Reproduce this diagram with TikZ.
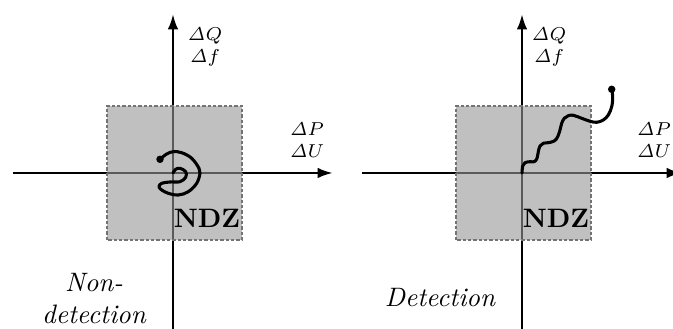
\documentclass[tikz,border=0pt]{standalone}
\usepackage{amsmath, amssymb}
\usepackage{tikz}
\usetikzlibrary{arrows.meta, positioning}

\tikzset{
	axis/.style={line width=1pt, -{Latex[length=5.8pt, width=4pt]}},
	ndzbox/.style={fill=black!41, fill opacity=0.6, draw=black!55, line width=0.6pt, dash pattern=on 1.2pt off 0.8pt},
	track/.style={line width=1.15pt, line cap=round, line join=round},
	dlabel/.style={font=\fontsize{7}{8.3}\selectfont, align=center, inner sep=0pt},
	ndz/.style={font=\bfseries, inner sep=0pt},
	verdict/.style={font=\itshape, align=center, inner sep=0pt}
}

\begin{document}
\begin{tikzpicture}[x=0.375pt, y=0.375pt]
	\useasboundingbox (0,0) rectangle (673,329);
	
	% 两个坐标系：坐标轴与灰色 NDZ 区域
	\foreach \ox/\p in {173/L, 522/R} {
		\coordinate (o\p) at (\ox,156);
		\coordinate (w\p) at (\ox-160,156);
		\coordinate (e\p) at (\ox+160,156);
		\coordinate (s\p) at (\ox,0);
		\coordinate (n\p) at (\ox,315);
		\draw[axis] (w\p) -- (e\p);
		\draw[axis] (s\p) -- (n\p);
		\path[ndzbox] (\ox-66,89) rectangle (\ox+69,223);
	}
	
	% 轴标签
	\node[dlabel] (qfL) at (205,282) {$\mathit{\Delta} Q$\\$\mathit{\Delta} f$};
	\node[dlabel] (puL) at (307,189) {$\mathit{\Delta} P$\\$\mathit{\Delta} U$};
	\node[dlabel] (qfR) at (549,282) {$\mathit{\Delta} Q$\\$\mathit{\Delta} f$};
	\node[dlabel] (puR) at (654,189) {$\mathit{\Delta} P$\\$\mathit{\Delta} U$};
	
	\node[ndz] (ndzL) at (207,111) {NDZ};
	\node[ndz] (ndzR) at (556,111) {NDZ};
	
	\node[verdict] (nondet) at (94,30) {Non-\\detection};
	\node[verdict] (det) at (440,31) {Detection};
	
	% 左：螺旋轨迹，停留在 NDZ 内
	\coordinate (dotL) at (160,169.7);
	\draw[track] plot[smooth, tension=0.6] coordinates {
		(dotL) (166.7,175) (173.3,177.3) (181.7,176.3) (191.7,170.7)
		(199,160.7) (200,155.7) (196.7,145.7) (188.3,137.3) (178.3,134)
		(168.3,135.7) (161.7,139) (159,142.3) (161.7,145.7) (170,147)
		(180,147.3) (185.7,151.7) (185.7,157.3) (180,160.7) (175.7,159.7) (oL)};
	\fill (dotL) circle (1.4pt);
	
	% 右：阶梯轨迹，离开 NDZ
	\coordinate (dotR) at (611.7,239.7);
	\draw[track] plot[smooth, tension=0.6] coordinates {
		(oR) (522.7,163) (525,166.3) (530,167.3) (534.3,167.3) (537,170.7)
		(538.3,177.3) (540,183) (543.3,185.7) (548.3,186.3) (554.3,188)
		(557.7,192.3) (560,199) (561.7,205.7) (564.3,210.7) (568.3,213.3)
		(573.3,213.7) (581.7,210.7) (590,207.7) (596.7,206.7) (603.3,209)
		(608.3,214) (611.7,222.3) (612.7,232.3) (dotR)};
	\fill (dotR) circle (1.4pt);
\end{tikzpicture}
\end{document}
